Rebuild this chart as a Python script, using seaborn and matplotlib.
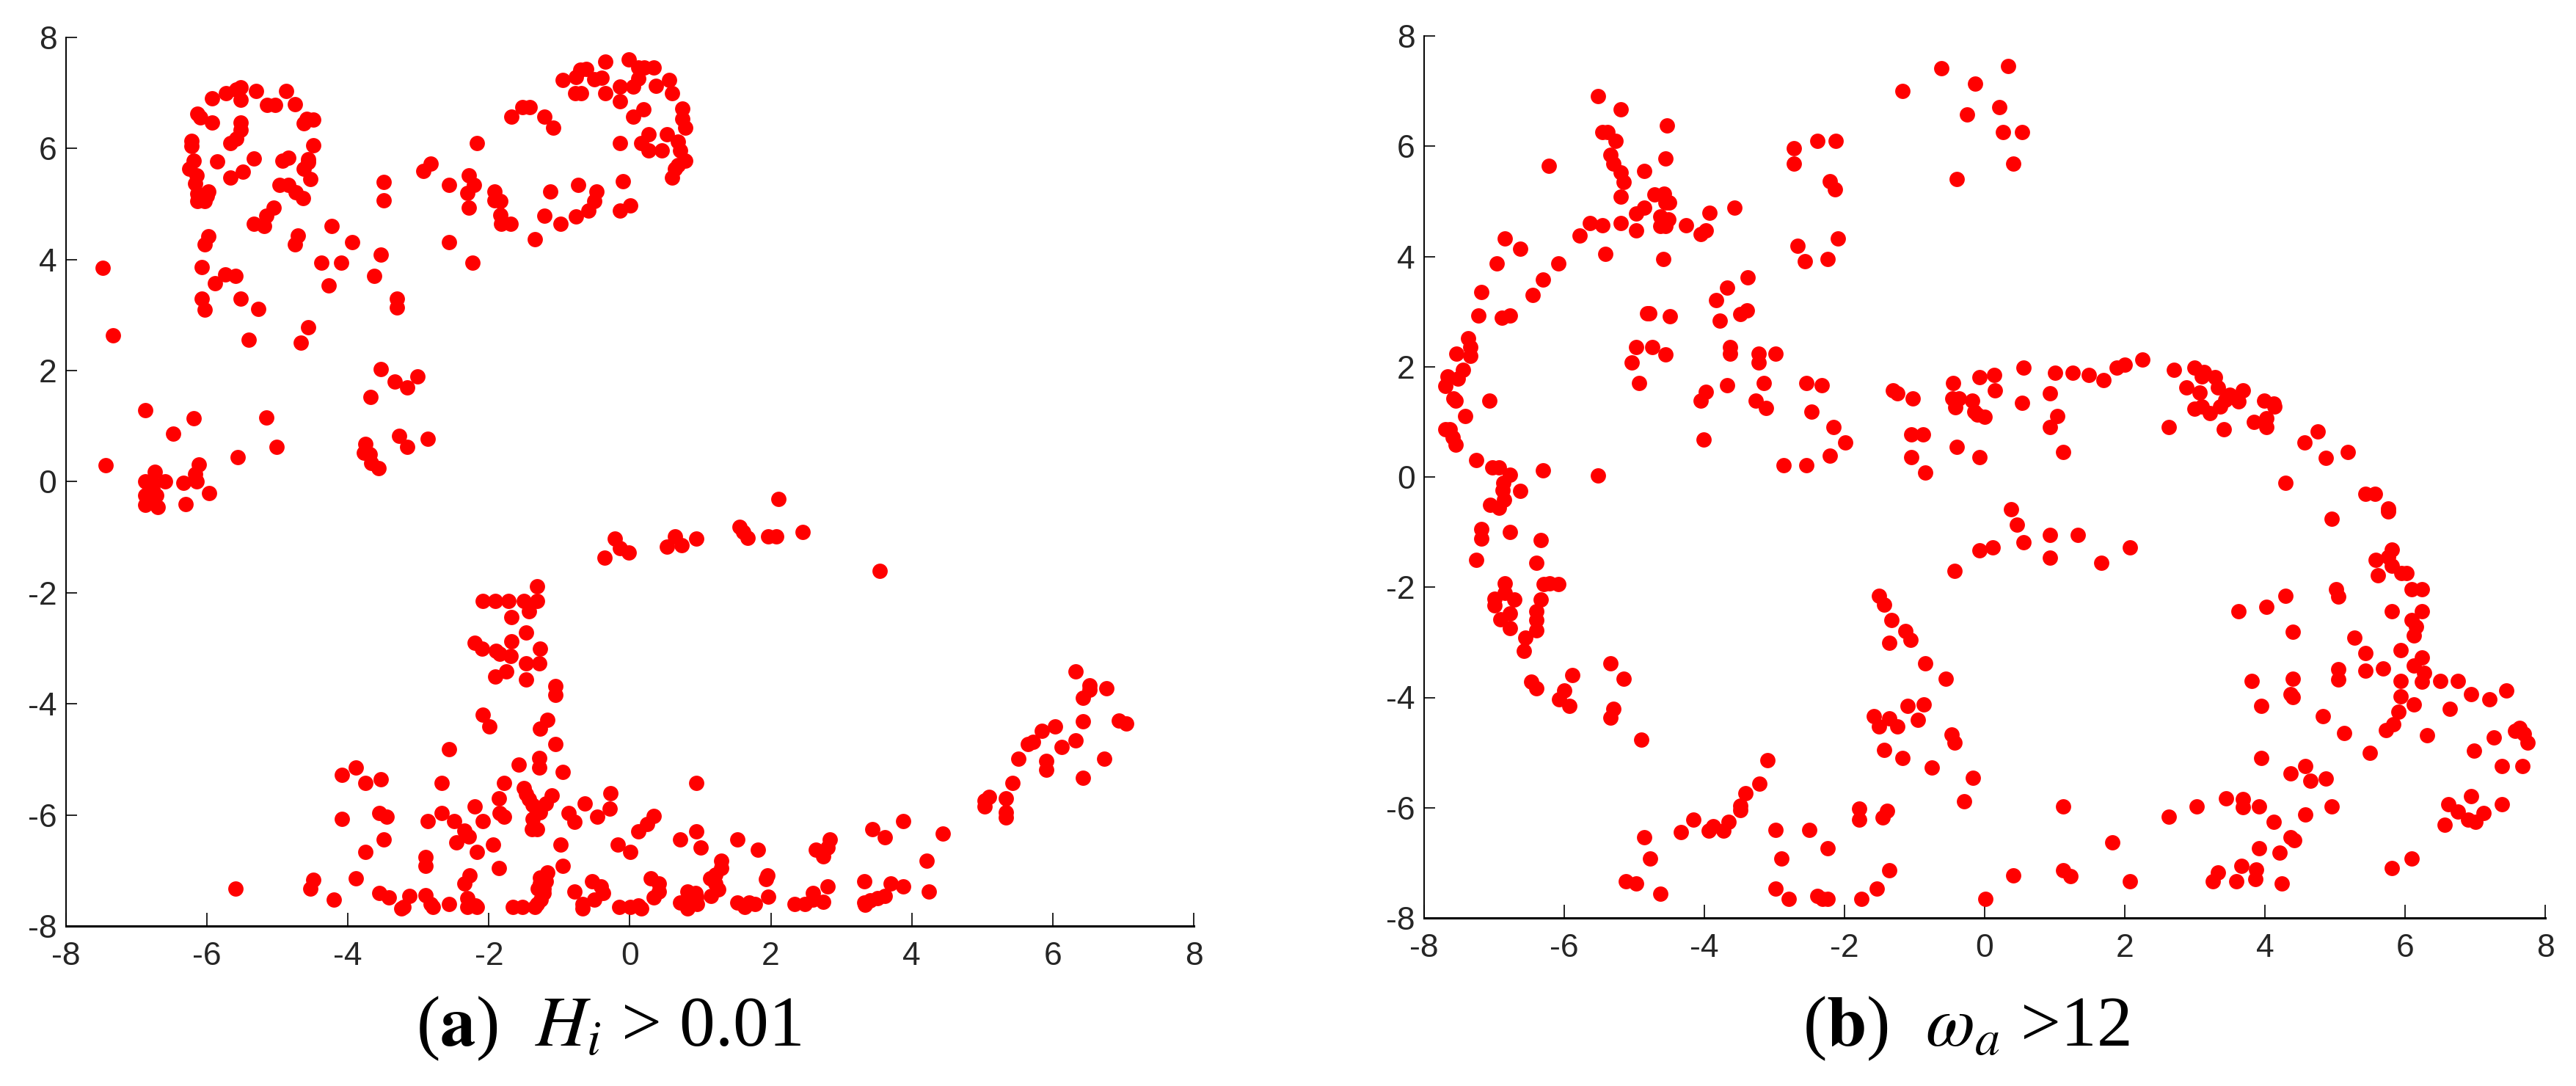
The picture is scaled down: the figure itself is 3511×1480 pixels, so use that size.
import matplotlib
matplotlib.use("Agg")
import matplotlib.pyplot as plt
import pandas as pd
import seaborn as sns

a_left = [(-7.48,3.85),(-7.33,2.64),(-7.44,0.30),(-6.88,1.29),(-6.19,1.14),(-5.16,1.15),(-6.48,0.86),(-5.01,0.63),(-5.56,0.44),(-6.12,0.31),(-6.17,0.14),(-6.74,0.18),(-6.88,0.01),(-6.79,0.0),(-6.59,0.01),(-6.33,-0.02),(-6.15,0),(-5.97,-0.21),(-6.88,-0.24),(-6.72,-0.24),(-6.79,-0.3),(-6.88,-0.41),(-6.70,-0.46),(-6.30,-0.40),(-6.77,-0.12)]
a_band = [(-5.93,6.90),(-5.73,6.99),(-5.58,7.06),(-5.52,7.10),(-5.52,6.88),(-5.30,7.04),(-4.88,7.04),(-5.15,6.79),(-5.03,6.79),(-4.75,6.80),(-6.14,6.62),(-6.09,6.56),(-5.93,6.47),(-5.52,6.47),(-5.52,6.34),(-4.63,6.46),(-4.59,6.53),(-4.49,6.52),(-5.58,6.18),(-5.67,6.10),(-6.22,6.14),(-6.22,6.04),(-4.49,6.06),(-5.34,5.82),(-6.19,5.78),(-5.86,5.77),(-4.93,5.78),(-4.85,5.83),(-4.56,5.81),(-4.56,5.75),(-4.63,5.63),(-6.25,5.63),(-5.49,5.58),(-6.15,5.51),(-5.67,5.48),(-4.53,5.45),(-6.17,5.37),(-4.97,5.35),(-4.85,5.35),(-4.74,5.21),(-5.98,5.22),(-6.00,5.15),(-6.14,5.19),(-6.14,5.06),(-6.03,5.06),(-4.64,5.11),(-5.05,4.94),(-5.16,4.79),(-5.34,4.65),(-5.19,4.60),(-4.23,4.60),(-4.71,4.43),(-5.98,4.42),(-6.03,4.27),(-4.75,4.27),(-3.94,4.32),(-3.53,4.09),(-4.38,3.95),(-4.10,3.95),(-6.07,3.86),(-5.74,3.73),(-5.60,3.71),(-5.89,3.58),(-3.63,3.71),(-4.27,3.53),(-6.07,3.30),(-5.52,3.30),(-3.31,3.30),(-3.31,3.14),(-6.03,3.10),(-5.27,3.11),(-4.56,2.78),(-5.41,2.55),(-4.67,2.51),(-3.53,2.03),(-3.01,1.89),(-3.34,1.80),(-3.16,1.70),(-3.68,1.52),(-3.27,0.82),(-2.87,0.77),(-3.75,0.68),(-3.16,0.63),(-3.77,0.52),(-3.69,0.50),(-3.67,0.34),(-3.57,0.25)]
a_loop = [(-2.17,6.10),(-2.83,5.73),(-2.93,5.59),(-3.49,5.40),(-3.49,5.07),(-2.57,5.35),(-2.28,5.51),(-2.21,5.35),(-2.31,5.20),(-1.92,5.22),(-1.92,5.07),(-1.84,5.06),(-2.28,4.94),(-1.84,4.80),(-1.83,4.64),(-1.69,4.64),(-2.57,4.32),(-1.35,4.37),(-2.23,3.95),(-1.21,4.79),(-0.98,4.65),(-0.77,4.78),(-0.59,4.88),(-0.51,5.06),(-0.47,5.22),(-1.13,5.22),(-0.73,5.35),(-0.10,5.41),(-0.14,4.88),(0.01,4.97),(-1.68,6.57),(-1.53,6.75),(-1.42,6.75),(-1.21,6.57),(-1.09,6.38),(-0.95,7.23),(-0.77,7.28),(-0.70,7.42),(-0.62,7.43),(-0.51,7.25),(-0.40,7.27),(-0.35,7.57),(-0.02,7.61),(0.12,7.46),(0.20,7.46),(0.34,7.46),(0.12,7.26),(0.05,7.12),(-0.14,7.12),(0.37,7.13),(0.56,7.24),(0.60,6.99),(-0.78,6.99),(-0.69,6.99),(-0.35,6.99),(-0.14,6.85),(0.19,6.71),(0.05,6.57),(0.74,6.72),(0.74,6.53),(0.79,6.38),(-0.14,6.10),(0.27,6.25),(0.53,6.25),(0.16,6.10),(0.27,5.96),(0.45,5.97),(0.68,6.12),(0.71,5.96),(0.79,5.78),(0.68,5.70),(0.64,5.63),(0.60,5.48)]
a_mid = [(2.11,-0.31),(1.56,-0.81),(1.61,-0.90),(1.67,-1.01),(1.96,-0.99),(2.08,-0.99),(2.45,-0.91),(3.54,-1.60),(-0.36,-1.37),(-0.21,-1.02),(-0.14,-1.19),(-0.02,-1.28),(0.53,-1.17),(0.64,-0.99),(0.73,-1.14),(0.94,-1.03)]
a_column = [(-1.32,-1.88),(-2.09,-2.15),(-1.91,-2.15),(-1.72,-2.15),(-1.50,-2.15),(-1.32,-2.15),(-1.43,-2.33),(-1.68,-2.44),(-1.47,-2.71),(-1.68,-2.87),(-2.20,-2.90),(-2.10,-3.01),(-1.90,-3.05),(-1.85,-3.10),(-1.69,-3.14),(-1.28,-3.0),(-1.29,-3.27),(-1.47,-3.27),(-1.75,-3.42),(-1.91,-3.51),(-1.47,-3.56),(-1.06,-3.68),(-1.06,-3.84),(-2.09,-4.20),(-1.99,-4.40),(-1.17,-4.29),(-1.28,-4.44),(-1.06,-4.72),(-2.57,-4.81),(-1.29,-4.98),(-1.29,-5.15),(-1.58,-5.09),(-0.95,-5.23)]
a_floor = [(-3.89,-5.14),(-4.09,-5.28),(-3.75,-5.42),(-3.53,-5.36),(-2.67,-5.42),(-1.79,-5.42),(-1.50,-5.52),(-1.47,-5.62),(-1.86,-5.70),(-1.11,-5.65),(-0.28,-5.61),(-1.43,-5.72),(-1.19,-5.80),(-1.38,-5.82),(-2.20,-5.85),(-0.64,-5.80),(-0.29,-5.89),(-1.28,-5.95),(-1.85,-5.97),(-0.87,-5.97),(-2.67,-5.97),(-3.56,-5.97),(-1.79,-6.03),(-3.45,-6.03),(-4.09,-6.07),(0.34,-6.02),(-0.46,-6.03),(-1.38,-6.07),(-2.09,-6.11),(-2.49,-6.11),(-2.87,-6.11),(-0.79,-6.12),(0.24,-6.16),(3.88,-6.11),(3.44,-6.26),(0.12,-6.30),(0.94,-6.30),(-1.39,-6.26),(-1.32,-6.26),(-2.35,-6.28),(4.44,-6.34),(-2.28,-6.39),(3.62,-6.40),(2.84,-6.44),(-3.49,-6.44),(0.71,-6.44),(1.52,-6.44),(-2.46,-6.49),(-1.94,-6.54),(-0.98,-6.54),(-0.17,-6.54),(1.00,-6.58),(2.81,-6.59),(1.82,-6.63),(2.64,-6.63),(0.01,-6.67),(-2.17,-6.66),(-3.75,-6.66),(2.74,-6.74),(-2.90,-6.76),(1.30,-6.82),(4.21,-6.82),(-2.90,-6.91),(-0.95,-6.91),(1.30,-6.96),(-1.86,-6.95),(-1.17,-7.03),(1.95,-7.09),(-2.27,-7.09),(1.21,-7.08),(1.14,-7.14),(-3.89,-7.14),(-4.49,-7.17),(-1.28,-7.13),(1.93,-7.16),(0.30,-7.14),(-1.19,-7.19),(-0.54,-7.19),(3.33,-7.19),(-2.35,-7.23),(-1.28,-7.23),(0.41,-7.23),(1.21,-7.23),(3.70,-7.23),(-0.41,-7.28),(3.88,-7.28),(2.81,-7.29),(1.25,-7.34),(-4.53,-7.33),(-5.60,-7.33),(-1.31,-7.33),(-1.22,-7.33),(4.24,-7.38),(0.41,-7.38),(-0.38,-7.40),(0.82,-7.38),(-0.79,-7.38),(0.93,-7.40),(-3.56,-7.41),(-1.22,-7.40),(2.60,-7.41),(-2.90,-7.45),(-3.13,-7.46),(-3.42,-7.48),(1.96,-7.47),(0.34,-7.48),(3.62,-7.46),(1.15,-7.46),(0.94,-7.48),(3.51,-7.50),(-4.20,-7.52),(-2.31,-7.50),(-0.51,-7.53),(2.74,-7.56),(2.60,-7.53),(-1.26,-7.53),(0.71,-7.58),(3.41,-7.54),(3.33,-7.58),(1.52,-7.58),(1.69,-7.58),(-2.57,-7.60),(-2.83,-7.60),(-0.67,-7.60),(-1.32,-7.60),(2.48,-7.61),(2.34,-7.61),(0.12,-7.63),(1.78,-7.61),(0.82,-7.61),(0.95,-7.61),(-2.31,-7.65),(-2.19,-7.63),(3.34,-7.62),(-1.66,-7.65),(-1.53,-7.65),(-0.15,-7.65),(0.01,-7.65),(-3.21,-7.65),(-1.35,-7.66),(-2.17,-7.66),(-2.79,-7.66),(-0.67,-7.68),(1.63,-7.66),(0.82,-7.68),(0.16,-7.68),(-3.24,-7.68),(0.94,-5.42)]
a_arm = [(6.32,-3.42),(6.52,-3.67),(6.52,-3.74),(6.76,-3.72),(6.43,-3.89),(6.43,-4.31),(6.94,-4.30),(7.04,-4.35),(6.03,-4.40),(5.84,-4.49),(5.72,-4.68),(5.65,-4.72),(6.32,-4.66),(6.13,-4.77),(5.51,-4.99),(5.91,-5.03),(5.91,-5.19),(6.73,-4.99),(6.43,-5.33),(5.43,-5.42),(5.10,-5.68),(5.03,-5.74),(5.33,-5.70),(5.03,-5.85),(5.33,-5.95),(5.33,-6.04)]

b_upper = [(-5.52,6.91),(-5.19,6.67),(-4.53,6.38),(-5.46,6.25),(-5.38,6.25),(-5.27,6.10),(-4.56,5.78),(-5.34,5.84),(-5.30,5.68),(-5.19,5.52),(-5.15,5.35),(-4.86,5.55),(-6.22,5.64),(-5.19,5.08),(-4.71,5.13),(-4.58,5.14),(-4.55,4.98),(-4.50,4.98),(-4.86,4.89),(-4.97,4.78),(-3.57,4.89),(-3.93,4.79),(-5.63,4.61),(-5.46,4.56),(-5.19,4.60),(-4.63,4.73),(-4.51,4.67),(-4.63,4.55),(-4.55,4.55),(-4.26,4.56),(-4.97,4.47),(-3.98,4.47),(-4.05,4.41),(-5.78,4.38),(-6.85,4.33),(-6.63,4.14),(-5.41,4.05),(-4.59,3.95),(-6.96,3.87),(-6.08,3.87),(-6.30,3.58),(-3.38,3.62),(-3.68,3.44),(-7.18,3.35),(-6.45,3.30),(-3.83,3.21),(-3.39,3.02),(-3.49,2.96),(-4.82,2.97),(-4.79,2.97),(-4.49,2.92),(-7.22,2.93),(-6.78,2.93),(-6.89,2.89),(-3.78,2.83),(-7.37,2.52),(-7.34,2.36),(-4.97,2.36),(-4.74,2.36),(-3.63,2.36),(-3.63,2.24),(-3.23,2.24),(-2.98,2.24),(-7.54,2.23),(-7.34,2.20),(-4.56,2.22),(-5.04,2.08),(-3.23,2.07),(-7.44,1.95),(-7.66,1.82),(-7.52,1.79),(-7.70,1.65),(-4.93,1.71),(-3.68,1.66),(-3.15,1.71),(-2.54,1.71),(-2.32,1.66),(-3.98,1.54),(-7.58,1.43),(-7.55,1.38),(-7.07,1.38),(-4.05,1.38),(-3.27,1.38),(-3.12,1.25),(-2.47,1.19),(-7.41,1.10),(-7.70,0.87),(-7.63,0.87),(-2.16,0.91),(-7.59,0.72),(-7.55,0.58),(-4.01,0.68),(-1.99,0.63),(-2.21,0.39),(-7.26,0.31),(-7.03,0.17),(-6.93,0.17),(-6.30,0.12),(-6.78,0.04),(-5.52,0.03),(-2.87,0.21),(-2.54,0.21),(-6.87,-0.11),(-6.63,-0.25),(-6.88,-0.24),(-6.86,-0.41),(-7.06,-0.50),(-6.93,-0.56)]
b_top = [(-0.62,7.42),(0.34,7.46),(-0.14,7.14),(-1.17,7.00),(0.21,6.71),(-0.25,6.57),(0.26,6.25),(0.53,6.25),(0.41,5.69),(-0.40,5.41),(-2.72,5.97),(-2.72,5.69),(-2.39,6.10),(-2.13,6.10),(-2.21,5.36),(-2.14,5.22),(-2.09,4.33),(-2.67,4.19),(-2.57,3.91),(-2.24,3.95)]
b_arc = [(-1.31,1.57),(-1.25,1.52),(-1.03,1.43),(-0.45,1.71),(-0.46,1.43),(-0.37,1.43),(-0.42,1.27),(-0.18,1.38),(-0.15,1.18),(-0.07,1.81),(0.14,1.85),(0.15,1.57),(0,1.09),(-0.10,1.13),(0.56,1.99),(0.53,1.34),(1.01,1.89),(0.93,1.52),(1.04,1.10),(0.93,0.91),(1.12,0.45),(1.26,1.89),(1.49,1.85),(1.70,1.76),(1.89,1.99),(2.0,2.04),(2.25,2.13),(2.70,1.94),(2.63,0.91),(2.99,1.99),(3.13,1.91),(3.10,1.83),(3.29,1.81),(2.88,1.62),(3.33,1.62),(3.69,1.57),(3.07,1.53),(3.50,1.49),(3.43,1.40),(3.62,1.37),(3.99,1.38),(4.13,1.33),(4.14,1.28),(3.10,1.28),(2.99,1.24),(3.36,1.28),(3.21,1.16),(4.02,1.07),(3.84,1.00),(4.02,0.90),(3.41,0.87),(4.75,0.82),(4.57,0.63),(4.87,0.35),(5.18,0.45),(4.29,-0.11),(5.43,-0.30),(5.57,-0.30),(5.76,-0.57),(-1.05,0.77),(-0.88,0.77),(-1.05,0.36),(-0.85,0.08),(-0.40,0.54),(-0.07,0.36),(0.38,-0.58),(0.46,-0.86),(0.55,-1.18),(0.93,-1.05),(1.33,-1.05),(0.93,-1.47),(1.67,-1.56),(2.07,-1.28),(0.11,-1.28),(-0.07,-1.33),(-0.43,-1.70),(4.95,-0.76),(5.76,-0.63)]
b_left = [(-7.18,-0.95),(-7.18,-1.12),(-6.77,-1.00),(-6.33,-1.14),(-7.26,-1.51),(-6.40,-1.56),(-6.85,-1.93),(-6.29,-1.94),(-6.21,-1.93),(-6.08,-1.94),(-6.85,-2.10),(-6.99,-2.21),(-6.71,-2.22),(-6.33,-2.22),(-6.99,-2.33),(-6.40,-2.43),(-6.77,-2.48),(-6.91,-2.58),(-6.40,-2.59),(-6.77,-2.74),(-6.40,-2.78),(-6.55,-2.91),(-6.58,-3.15),(-6.47,-3.71),(-6.40,-3.84),(-5.89,-3.60),(-6.0,-3.88),(-6.07,-4.03),(-5.93,-4.15),(-5.34,-3.38),(-5.15,-3.66),(-5.30,-4.21),(-5.34,-4.36),(-4.90,-4.77)]
b_lower = [(-3.10,-5.14),(-3.21,-5.56),(-3.41,-5.74),(-3.49,-5.96),(-3.49,-6.04),(-3.65,-6.25),(-4.16,-6.21),(-3.87,-6.33),(-3.94,-6.41),(-3.73,-6.42),(-4.34,-6.44),(-4.86,-6.54),(-4.78,-6.92),(-5.12,-7.34),(-4.97,-7.37),(-4.63,-7.56),(-2.98,-6.40),(-2.50,-6.40),(-2.24,-6.73),(-2.90,-6.92),(-2.98,-7.47),(-2.80,-7.66),(-2.39,-7.60),(-2.31,-7.65),(-2.24,-7.65),(-1.76,-7.66),(-1.54,-7.47),(-1.36,-7.14),(-1.79,-6.02),(-1.79,-6.22),(-1.46,-6.18),(-1.39,-6.06),(-0.29,-5.89),(-0.17,-5.46),(-0.75,-5.27),(-1.17,-5.10),(-1.43,-4.95),(-0.43,-4.82),(-0.47,-4.67),(-1.25,-4.53),(-1.51,-4.53),(-1.58,-4.34),(-1.36,-4.38),(-0.95,-4.40),(-1.10,-4.15),(-0.87,-4.13),(-0.55,-3.66),(-0.85,-3.38),(-1.06,-2.95),(-1.13,-2.80),(-1.36,-3.01),(-1.33,-2.59),(-1.43,-2.31),(-1.51,-2.16),(0.01,-7.66),(0.41,-7.23),(1.12,-7.14),(1.22,-7.24),(1.12,-5.98),(1.82,-6.63),(2.07,-7.33)]
b_right = [(2.63,-6.16),(3.03,-5.98),(3.44,-5.83),(3.69,-5.84),(3.69,-5.99),(3.92,-5.98),(4.13,-6.26),(4.58,-6.12),(4.95,-5.98),(4.37,-6.54),(4.42,-6.59),(3.92,-6.73),(4.21,-6.82),(3.66,-7.06),(3.87,-7.12),(3.33,-7.18),(3.26,-7.33),(3.59,-7.34),(3.86,-7.30),(4.24,-7.38),(5.81,-7.10),(6.09,-6.92),(3.95,-5.10),(4.37,-5.38),(4.58,-5.24),(4.65,-5.51),(4.87,-5.47),(3.62,-2.44),(4.02,-2.35),(4.29,-2.16),(4.40,-2.81),(3.81,-3.70),(4.40,-3.66),(4.37,-3.94),(4.40,-3.99),(3.95,-4.15),(4.83,-4.34),(5.13,-4.64),(5.50,-5.0),(5.02,-2.03),(5.05,-2.17),(5.28,-2.91),(5.43,-3.19),(5.05,-3.49),(5.43,-3.52),(5.05,-3.67),(5.69,-3.47),(5.81,-1.32),(5.58,-1.50),(5.76,-1.45),(5.81,-1.61),(5.95,-1.74),(6.02,-1.74),(5.61,-1.79),(6.09,-2.03),(6.24,-2.03),(5.81,-2.44),(6.24,-2.44),(6.09,-2.59),(6.16,-2.72),(6.13,-2.87),(5.94,-3.14),(6.24,-3.28),(6.13,-3.42),(6.27,-3.55),(5.94,-3.70),(6.24,-3.71),(6.50,-3.70),(6.75,-3.70),(6.94,-3.94),(7.45,-3.88),(7.20,-4.03),(5.94,-3.98),(6.13,-4.13),(6.64,-4.21),(5.91,-4.26),(5.83,-4.49),(5.73,-4.59),(6.31,-4.68),(7.27,-4.72),(7.63,-4.55),(7.57,-4.61),(7.70,-4.66),(7.75,-4.82),(6.98,-4.96),(7.38,-5.24),(7.68,-5.24),(6.94,-5.79),(7.38,-5.94),(6.62,-5.94),(6.75,-6.07),(7.12,-6.10),(6.90,-6.21),(7.01,-6.26),(6.57,-6.31)]

axis_ticks = [-8, -6, -4, -2, 0, 2, 4, 6, 8]
caption_a = r"($\mathbf{a}$)  $H_i$ > 0.01"
caption_b = r"($\mathbf{b}$)  $\omega_a$ >12"

sns.set_style("white")
plt.rcParams["font.family"] = ["Liberation Sans", "DejaVu Sans"]
plt.rcParams["mathtext.fontset"] = "stix"
plt.rcParams["axes.unicode_minus"] = False

W, H = 3512, 1480
fig = plt.figure(figsize=(W / 100, H / 100), dpi=100, facecolor="white")
panels = [
    (a_left + a_band + a_loop + a_mid + a_column + a_floor + a_arm, (90, 51, 1627, 1262), caption_a, 830),
    (b_upper + b_top + b_arc + b_left + b_lower + b_right, (1941, 49, 3469, 1251), caption_b, 2680),
]
for pts, (x0, y0, x1, y1), caption, cx in panels:
    ax = fig.add_axes([x0 / W, 1 - y1 / H, (x1 - x0) / W, (y1 - y0) / H])
    df = pd.DataFrame(pts, columns=["x", "y"])
    sns.scatterplot(data=df, x="x", y="y", ax=ax, color="#ff0000", s=225,
                    linewidth=0, clip_on=False, legend=False)
    ax.set_xlim(-8, 8)
    ax.set_ylim(-8, 8)
    ax.set_xticks(axis_ticks)
    ax.set_yticks(axis_ticks)
    ax.set_xlabel("")
    ax.set_ylabel("")
    sns.despine(ax=ax)
    ax.spines["left"].set_linewidth(1.4)
    ax.spines["left"].set_color("black")
    ax.spines["bottom"].set_linewidth(2.2)
    ax.spines["bottom"].set_color("black")
    ax.tick_params(axis="x", direction="in", length=13, width=1.2, pad=15,
                   labelsize=32, bottom=True, color="black")
    ax.tick_params(axis="y", direction="in", length=11, width=1.2, pad=9,
                   labelsize=32, left=True, color="black")
    fig.text(cx / W, 1 - 1402 / H, caption, family="Liberation Serif", fontsize=70,
             ha="center", va="center", color="black")

fig.savefig("out.png", dpi=100, facecolor="white")
